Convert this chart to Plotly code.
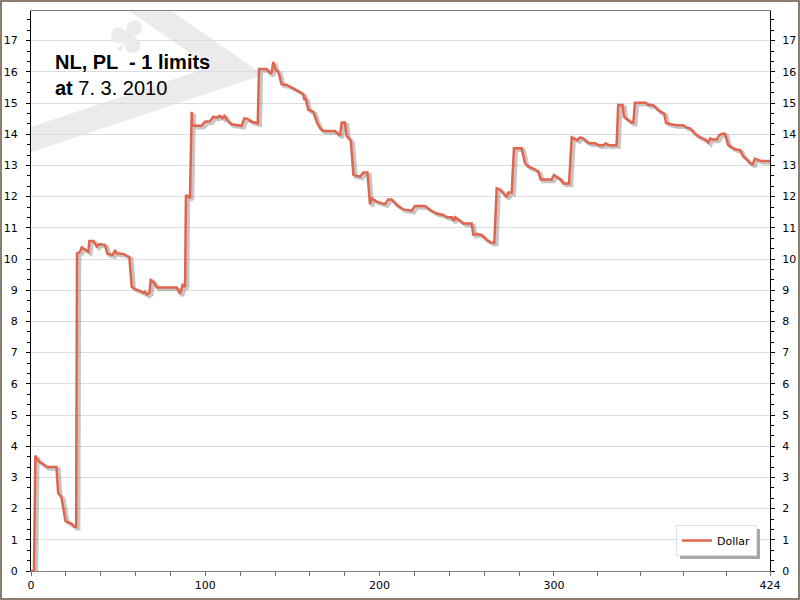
import plotly.graph_objects as go

# ---- data ----
x_vals = [0, 1.7, 2.5, 4, 5.5, 7, 8.8, 14.6, 15.6, 17.4, 19.8, 21.4, 23.3, 24.7, 25.9,
          26.4, 28.1, 29.1, 31, 32.9, 33.5, 35.8, 37.7, 39.2, 42.5, 43.8, 46.9, 48.2, 49.2,
          53, 54.9, 56.4, 57.8, 59.7, 62.5, 64.4, 65.4, 66.4, 67.9, 68.7, 70.2, 72.1, 83.6,
          85.5, 87, 88.4, 88.9, 91.2, 92.2, 92.5, 97.9, 99.8, 102.7, 104.6, 106.5, 108.4,
          109.8, 110.9, 113.2, 115.1, 120.9, 122.4, 124.3, 126.6, 130.1, 130.8, 135.2, 137.1,
          138.1, 139, 140.4, 141.9, 143.8, 146.7, 151.5, 156.2, 156.8, 157.4, 159.1, 162,
          163.9, 165.8, 167.7, 174.4, 177.3, 178.3, 180.1, 181.1, 183.5, 185, 188.8, 190.7,
          193, 194.5, 195.5, 198.3, 203.1, 205, 206.9, 209.8, 213.6, 217, 218.4, 220.3, 226,
          228.9, 232.8, 236.6, 238.6, 241.4, 242.3, 243.3, 245.2, 248.1, 252.8, 253.8, 255.7,
          258.6, 261.4, 264.3, 265.8, 267.2, 269.1, 272.9, 273.8, 275.8, 277.1, 281.5, 283.4,
          285.3, 288.2, 291.1, 292.4, 298.7, 300, 301.6, 303.9, 305.4, 308.7, 310.2, 312.1,
          313.4, 315, 316.9, 318.8, 320.3, 323.6, 325.5, 328.4, 329.9, 331.2, 336, 336.9,
          339.4, 340.2, 341.8, 344.6, 345.6, 346.5, 352.8, 354.2, 356.7, 359, 360.9, 363.2,
          364.3, 366.6, 370.5, 374.2, 375.8, 378.1, 379.6, 380.9, 383.8, 386.7, 387.7, 388.6,
          389.6, 391.1, 393.4, 394.9, 396.8, 398.2, 400, 402, 403.9, 406.8, 408.7, 410.6,
          412.5, 414, 415.4, 417.3, 419.2, 424]
dollar = [0, 0, 3.7, 3.54, 3.47, 3.43, 3.33, 3.33, 2.49, 2.37, 1.6, 1.55, 1.51, 1.42, 1.42,
          10.18, 10.23, 10.37, 10.31, 10.23, 10.58, 10.58, 10.4, 10.48, 10.45, 10.16, 10.13,
          10.29, 10.18, 10.16, 10.1, 10.07, 9.11, 9.03, 8.98, 8.92, 8.95, 8.86, 8.92, 9.33,
          9.27, 9.09, 9.09, 8.88, 9.17, 9.11, 12.05, 11.96, 14.72, 14.27, 14.27, 14.4, 14.42,
          14.56, 14.53, 14.59, 14.51, 14.59, 14.4, 14.32, 14.27, 14.51, 14.49, 14.4, 14.35,
          16.09, 16.09, 15.95, 15.98, 16.32, 16.06, 16.0, 15.6, 15.58, 15.44, 15.29, 15.1,
          15.18, 14.78, 14.72, 14.4, 14.19, 14.1, 14.1, 13.95, 14.38, 14.38, 13.95, 13.78,
          12.69, 12.64, 12.77, 12.77, 11.75, 11.94, 11.84, 11.76, 11.91, 11.91, 11.73, 11.59,
          11.57, 11.55, 11.7, 11.7, 11.57, 11.46, 11.41, 11.34, 11.34, 11.22, 11.34, 11.25,
          11.14, 11.14, 10.78, 10.8, 10.77, 10.61, 10.52, 10.52, 12.27, 12.23, 11.98, 12.13,
          12.13, 13.55, 13.55, 13.07, 12.96, 12.9, 12.8, 12.55, 12.55, 12.69, 12.62, 12.55,
          12.42, 12.42, 13.9, 13.86, 13.81, 13.9, 13.86, 13.76, 13.71, 13.71, 13.65, 13.65,
          13.71, 13.65, 13.65, 14.94, 14.94, 14.56, 14.5, 14.37, 14.37, 15.01, 15.01, 14.94,
          14.94, 14.83, 14.72, 14.67, 14.37, 14.33, 14.29, 14.29, 14.22, 14.19, 14.08, 14.01,
          13.9, 13.84, 13.79, 13.73, 13.86, 13.83, 13.83, 13.97, 14.02, 14.01, 13.65, 13.58,
          13.52, 13.49, 13.28, 13.2, 13.07, 13.04, 13.22, 13.17, 13.14, 13.14]

series_name = "Dollar"
x_tick_vals = [0, 100, 200, 300, 424]
x_minor_vals = [20, 40, 60, 80, 120, 140, 160, 180, 220, 240, 260, 280, 324.8, 349.6, 374.4, 399.2]
y_tick_vals = list(range(0, 18))
title_line1 = "NL, PL  - 1 limits"
title_line2_a = "at"
title_line2_b = "7. 3. 2010"

# ---- layout geometry (pixels) ----
W, H = 800, 600
ML, MR, MT, MB = 31, 30, 11, 29
X_MAX = 424
Y_MAX = 17.95
PW, PH = W - ML - MR, H - MT - MB
px_per_x = PW / X_MAX
px_per_y = PH / Y_MAX

# shadow offset (2.5 px right, 2 px down) converted into data units
sx = 2.5 / px_per_x
sy = 2.0 / px_per_y

fig = go.Figure()
fig.add_trace(go.Scatter(
    x=[v + sx for v in x_vals], y=[v - sy for v in dollar], mode="lines",
    line=dict(color="rgba(120,120,120,0.42)", width=3.5),
    showlegend=False, hoverinfo="skip", yaxis="y"))
fig.add_trace(go.Scatter(
    x=x_vals, y=dollar, mode="lines", name=series_name,
    line=dict(color="#E0654E", width=2.5), yaxis="y2"))

font = dict(family="DejaVu Sans, Verdana, sans-serif", size=11, color="black")

all_x_ticks = sorted(x_tick_vals + x_minor_vals)
x_tick_text = [str(v) if v in x_tick_vals else "" for v in all_x_ticks]

yaxis_common = dict(
    range=[0, Y_MAX], tickvals=y_tick_vals, ticks="outside", ticklen=4,
    tickcolor="black", showline=True, linecolor="black", linewidth=1,
    tickfont=font, zeroline=False, fixedrange=True, automargin=False,
    minor=dict(dtick=1 / 3, tick0=0, ticks="outside", ticklen=3, tickcolor="black", showgrid=False),
)

fig.update_layout(
    width=W, height=H, autosize=False,
    margin=dict(l=ML, r=MR, t=MT, b=MB, pad=0, autoexpand=False),
    paper_bgcolor="white", plot_bgcolor="white",
    xaxis=dict(range=[0, X_MAX], tickvals=all_x_ticks, ticktext=x_tick_text,
               ticks="outside", ticklen=4, tickcolor="#707070", automargin=False,
               showline=True, linecolor="#808080", linewidth=1, mirror=True,
               showgrid=False, zeroline=False, tickfont=font, fixedrange=True),
    yaxis=dict(**yaxis_common, side="left", showgrid=True, gridcolor="#DCDCDC", gridwidth=1,
               ticklabelstandoff=6),
    yaxis2=dict(**yaxis_common, side="right", overlaying="y", showgrid=False,
                ticklabelstandoff=5),
    legend=dict(x=(757 - ML) / PW, xanchor="right", y=(H - MB - 556) / PH, yanchor="bottom",
                bgcolor="white", bordercolor="#E2E2E2", borderwidth=1,
                font=font, itemwidth=30, tracegroupgap=0),
    showlegend=True,
)


def px2data(px, py):
    return (px - ML) / px_per_x, (H - MB - py) / px_per_y


def px2paper(px, py):
    return (px - ML) / PW, (H - MB - py) / PH


# watermark (playing card outline + club), clipped to plot area
A = px2data(120, -10)
B = px2data(237, 71)
C = px2data(0, 150)
fig.add_shape(type="path", xref="x", yref="y", layer="below",
              path=f"M {A[0]},{A[1]} L {B[0]},{B[1]} L {C[0]},{C[1]}",
              line=dict(color="#EBEBEB", width=24))
cx, cy = px2data(128, 36)
fig.add_annotation(x=cx, y=cy, xref="x", yref="y", text="♣", showarrow=False,
                   font=dict(size=48, color="#EBEBEB", family="DejaVu Sans"), textangle=35)

# title text
tx, ty = px2data(53, 49)
fig.add_annotation(x=tx, y=ty, xref="x", yref="y", xanchor="left", yanchor="top",
                   align="left", showarrow=False,
                   text=f"<b>{title_line1}</b><br><b>{title_line2_a}</b> {title_line2_b}",
                   font=dict(family="Liberation Sans, Arial, sans-serif", size=20, color="black"))

# legend drop shadow
s0 = px2paper(680, 559)
s1 = px2paper(760, 529)
fig.add_shape(type="rect", xref="paper", yref="paper", x0=s0[0], y0=s0[1], x1=s1[0], y1=s1[1],
              line=dict(width=0), fillcolor="#A8A8A8")

# outer brownish frame of the image
f0 = px2paper(1, H - 1)
f1 = px2paper(W - 1, 1)
fig.add_shape(type="rect", xref="paper", yref="paper",
              x0=f0[0], x1=f1[0], y0=f0[1], y1=f1[1],
              line=dict(color="#8C7D6E", width=2), fillcolor="rgba(0,0,0,0)")

fig.write_html("out.html", config={"displayModeBar": False, "staticPlot": True},
               post_script="document.body.style.margin='0';document.body.style.overflow='hidden';")
